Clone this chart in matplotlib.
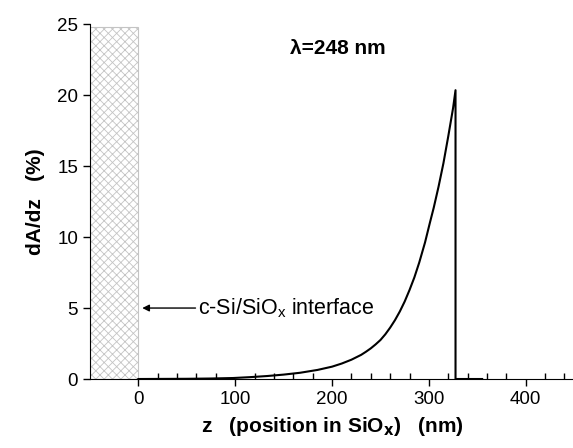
import numpy as np
import matplotlib
matplotlib.use("Agg")
import matplotlib.pyplot as plt
from matplotlib.ticker import MultipleLocator

plt.rcParams['font.family'] = ['Liberation Sans', 'DejaVu Sans']
plt.rcParams['hatch.linewidth'] = 0.6
plt.rcParams['hatch.color'] = '#c0c0c0'

# absorption profile
z_nm = [0, 50, 75, 98, 115, 133, 150, 167, 185, 200, 210, 220, 230, 235,
        240, 245, 250, 255, 260, 265, 270, 275, 280, 285, 290, 296, 301,
        305, 310, 315, 320, 325, 327.5, 327.5, 355]
dadz = [0.0, 0.015, 0.035, 0.07, 0.13, 0.21, 0.31, 0.44, 0.64, 0.87, 1.09,
        1.36, 1.70, 1.92, 2.16, 2.44, 2.75, 3.15, 3.62, 4.15, 4.76, 5.46,
        6.27, 7.16, 8.2, 9.62, 11.0, 12.07, 13.56, 15.2, 17.1, 19.1, 20.35,
        0.0, 0.0]

# c-Si substrate region
si_left = -50
si_right = 0
si_top = 24.8

fig = plt.figure(figsize=(5.73, 4.48), dpi=100)
ax = fig.add_axes([0.157, 0.154, 0.845, 0.792])

ax.bar((si_left + si_right) / 2, si_top, width=si_right - si_left,
       facecolor='white', edgecolor='#c4c4c4', hatch='xxxx', linewidth=0.8, zorder=3)
ax.plot(z_nm, dadz, color='black', lw=1.5, zorder=3)

ax.set_xlim(-50, 450)
ax.set_ylim(0, 25)
ax.spines['top'].set_visible(False)
ax.spines['right'].set_visible(False)
ax.spines['left'].set_zorder(4)
ax.spines['bottom'].set_zorder(4)

ax.xaxis.set_major_locator(MultipleLocator(100))
ax.xaxis.set_minor_locator(MultipleLocator(20))
ax.yaxis.set_major_locator(MultipleLocator(5))
ax.tick_params(axis='both', which='major', direction='out', length=5, width=1,
               labelsize=13.5, colors='black')
ax.tick_params(axis='x', which='minor', direction='in', length=4, width=1)

ax.set_xlabel(r'z   (position in SiO$_\mathbf{x}$)   (nm)', fontsize=15,
              fontweight='bold', labelpad=5)
ax.set_ylabel('dA/dz   (%)', fontsize=15, fontweight='bold', labelpad=9)

ax.text(157, 23.3, 'λ=248 nm', fontsize=15, fontweight='bold', va='center')

ax.annotate('', xy=(4, 5.0), xytext=(59, 5.0),
            arrowprops=dict(arrowstyle='-|>', color='black', lw=1,
                            mutation_scale=10, shrinkA=0, shrinkB=0))
ax.text(62, 5.0, r'c-Si/SiO$_\mathregular{x}$ interface', fontsize=15.5, va='center')

fig.savefig('out.png', dpi=100)
